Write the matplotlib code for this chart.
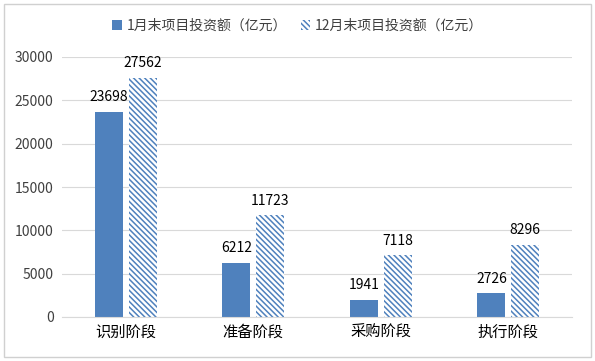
import matplotlib
matplotlib.use("Agg")
import matplotlib.pyplot as plt
import numpy as np
from matplotlib.patches import Rectangle

plt.rcParams["font.family"] = ["Noto Sans CJK SC", "DejaVu Sans"]
plt.rcParams["hatch.linewidth"] = 1.1

# ── データ ──
categories = ["识别阶段", "准备阶段", "采购阶段", "执行阶段"]
jan_values = [23698, 6212, 1941, 2726]
dec_values = [27562, 11723, 7118, 8296]
series_names = ["1月末项目投资额（亿元）", "12月末项目投资额（亿元）"]
yticks = [0, 5000, 10000, 15000, 20000, 25000, 30000]

BLUE = "#4F81BD"
TEXT = "#404040"

fig = plt.figure(figsize=(5.95, 3.61), dpi=100)
ax = fig.add_axes([62 / 595, 1 - 317 / 361, (572 - 62) / 595, (317 - 57) / 361])

x = np.arange(len(categories))
width = 0.22
off = 0.132
b1 = ax.bar(x - off, jan_values, width, color=BLUE, label=series_names[0])
b2 = ax.bar(x + off, dec_values, width, color="white", edgecolor=BLUE,
            hatch="\\\\\\\\\\\\", linewidth=0, label=series_names[1])

for bars, vals in ((b1, jan_values), (b2, dec_values)):
    for bar, v in zip(bars, vals):
        ax.text(bar.get_x() + bar.get_width() / 2, v + 900, f"{v}",
                ha="center", va="bottom", fontsize=10, color="black")

ax.set_xlim(-0.5, len(categories) - 0.5)
ax.set_ylim(0, 30000)
ax.set_yticks(yticks)
ax.set_yticklabels([str(t) for t in yticks], fontsize=10, color=TEXT)
ax.set_xticks(x)
ax.set_xticklabels(categories, fontsize=11, color="black")
ax.tick_params(axis="both", length=0)
ax.tick_params(axis="y", pad=6)
ax.tick_params(axis="x", pad=5)
ax.yaxis.grid(True, color="#D9D9D9", linewidth=0.8)
ax.set_axisbelow(True)
for s in ("top", "right", "left"):
    ax.spines[s].set_visible(False)
ax.spines["bottom"].set_color("#D9D9D9")

leg = fig.legend(handles=[b1, b2], loc="center", bbox_to_anchor=(0.5, 1 - 26 / 361),
                 ncol=2, frameon=False, fontsize=10, handlelength=0.7,
                 handleheight=0.7, handletextpad=0.3, columnspacing=1.0)
for t in leg.get_texts():
    t.set_color(TEXT)

fig.patches.append(Rectangle((4 / 595, 4 / 361), 587 / 595, 353 / 361,
                             transform=fig.transFigure, fill=False,
                             edgecolor="#D0D0D0", linewidth=1))

fig.savefig("out.png", dpi=100)
